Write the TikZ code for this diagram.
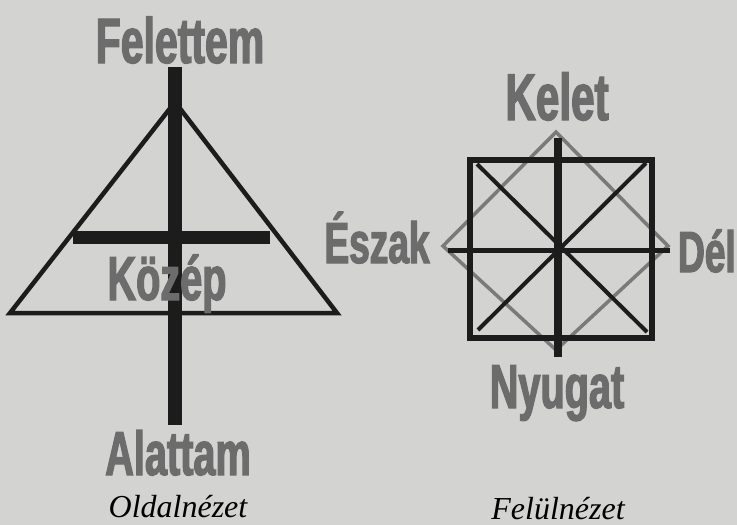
\documentclass[tikz,border=0pt]{standalone}
\usepackage{fontspec}
\setmainfont{Liberation Serif}
\newfontfamily\headfont[FakeStretch=0.64,FakeBold=2]{Liberation Sans}
\usetikzlibrary{positioning}
\definecolor{paper}{HTML}{D3D3D1}
\definecolor{ink}{HTML}{1C1C1C}
\definecolor{lc}{HTML}{6C6C6C}
\definecolor{rim}{HTML}{7A7A7A}
\tikzset{lab/.style={text=lc,inner sep=0pt,anchor=base,
    font=\headfont\bfseries\fontsize{#1}{#1}\selectfont},
  viewcap/.style={inner sep=0pt,anchor=base,font=\itshape\fontsize{32}{32}\selectfont},
  bar/.style={draw=ink,line width=#1}}

\begin{document}
\begin{tikzpicture}[x=1pt,y=-1pt]
\fill[paper] (0,0) rectangle (737,525);
\useasboundingbox (0,0) rectangle (737,525);
% side view
\coordinate (apex) at (175,102);
\coordinate (bl) at (10,313);
\coordinate (br) at (337,313);
\draw[bar=4.5pt,line join=miter] (apex)--(br)--(bl)--cycle;
\draw[bar=14pt] (175,67)--(175,425);
\draw[bar=13pt] (73,237)--(270,237);
\node[lab=64] (fel) at (180,63) {Felettem};
\node[lab=62] (koz) at (167,300) {Közép};
\node[lab=62] (ala) at (178,475) {Alattam};
\node[viewcap] (old) at (178,517) {Oldalnézet};
% top view
\coordinate (c) at (556,246);
\draw[rim,line width=3.5pt,line join=miter] (556,132)--(668,246)--(556,350)--(443,246)--cycle;
\draw[bar=6pt] (470,160) rectangle (652,338);
\draw[bar=4pt] (477,164)--(647,332);
\draw[bar=4pt] (478,330)--(646,163);
\draw[bar=5pt] (448,250)--(670,250);
\draw[bar=8pt] (558,138)--(558,357);
\node[lab=66] (kel) at (557,120) {Kelet};
\node[lab=58] (esz) at (377,263) {Észak};
\node[lab=58,anchor=base east] (del) at (736,272) {Dél};
\node[lab=62] (nyu) at (557,408) {Nyugat};
\node[viewcap] (felul) at (558,519) {Felülnézet};
\end{tikzpicture}
\end{document}
